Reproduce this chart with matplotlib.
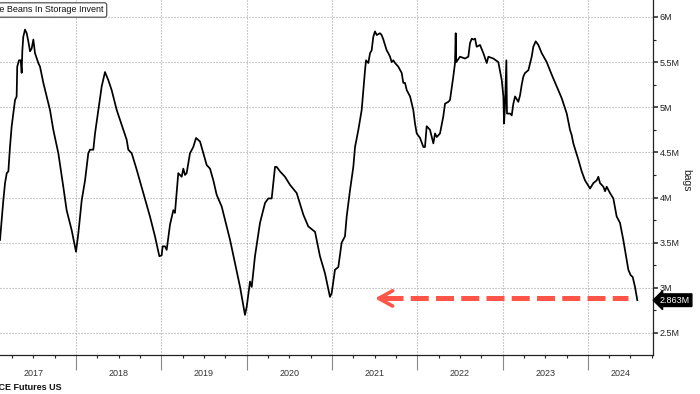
import matplotlib
matplotlib.use('Agg')
import matplotlib.pyplot as plt
from matplotlib.ticker import MultipleLocator, FuncFormatter, FixedLocator
from matplotlib.transforms import blended_transform_factory

# ---- data (decimal year, million bags) ----
years = [
2017.109, 2017.148, 2017.168, 2017.188, 2017.207, 2017.226, 2017.246, 2017.265, 2017.285, 2017.304,
2017.311, 2017.332, 2017.352, 2017.363, 2017.371, 2017.382, 2017.402, 2017.422, 2017.441, 2017.461,
2017.480, 2017.500, 2017.519, 2017.558, 2017.578, 2017.617, 2017.695, 2017.734, 2017.793, 2017.851,
2017.890, 2017.949, 2018.000, 2018.027, 2018.067, 2018.106, 2018.144, 2018.164, 2018.203, 2018.223,
2018.262, 2018.301, 2018.340, 2018.379, 2018.418, 2018.477, 2018.516, 2018.555, 2018.594, 2018.613,
2018.653, 2018.711, 2018.789, 2018.867, 2018.926, 2018.977, 2019.004, 2019.016, 2019.043, 2019.063,
2019.102, 2019.141, 2019.160, 2019.199, 2019.239, 2019.258, 2019.278, 2019.297, 2019.336, 2019.375,
2019.407, 2019.454, 2019.493, 2019.532, 2019.571, 2019.610, 2019.649, 2019.708, 2019.767, 2019.806,
2019.865, 2019.923, 2019.981, 2020.001, 2020.040, 2020.060, 2020.098, 2020.157, 2020.216, 2020.254,
2020.294, 2020.333, 2020.352, 2020.391, 2020.450, 2020.509, 2020.587, 2020.665, 2020.723, 2020.802,
2020.821, 2020.860, 2020.919, 2020.977, 2020.997, 2021.036, 2021.075, 2021.114, 2021.153, 2021.173,
2021.212, 2021.251, 2021.271, 2021.310, 2021.349, 2021.368, 2021.388, 2021.400, 2021.427, 2021.447,
2021.466, 2021.485, 2021.505, 2021.525, 2021.564, 2021.583, 2021.603, 2021.642, 2021.661, 2021.681,
2021.701, 2021.720, 2021.740, 2021.778, 2021.818, 2021.837, 2021.857, 2021.877, 2021.916, 2021.954,
2021.974, 2021.994, 2022.033, 2022.072, 2022.091, 2022.111, 2022.150, 2022.189, 2022.209, 2022.229,
2022.267, 2022.306, 2022.326, 2022.365, 2022.384, 2022.423, 2022.443, 2022.451, 2022.457, 2022.502,
2022.560, 2022.599, 2022.619, 2022.639, 2022.658, 2022.678, 2022.697, 2022.736, 2022.775, 2022.815,
2022.834, 2022.892, 2022.951, 2022.991, 2023.010, 2023.018, 2023.029, 2023.045, 2023.052, 2023.088,
2023.108, 2023.127, 2023.147, 2023.185, 2023.205, 2023.225, 2023.244, 2023.264, 2023.303, 2023.342,
2023.361, 2023.389, 2023.420, 2023.459, 2023.518, 2023.577, 2023.635, 2023.694, 2023.753, 2023.791,
2023.811, 2023.830, 2023.889, 2023.928, 2023.967, 2024.026, 2024.065, 2024.104, 2024.123, 2024.143,
2024.182, 2024.202, 2024.221, 2024.260, 2024.299, 2024.338, 2024.377, 2024.416, 2024.455, 2024.475,
2024.502, 2024.526, 2024.553, 2024.580,
]
values = [
3.53, 3.97, 4.16, 4.27, 4.29, 4.56, 4.79, 4.93, 5.08, 5.12,
5.45, 5.52, 5.52, 5.38, 5.63, 5.78, 5.86, 5.82, 5.73, 5.62,
5.65, 5.75, 5.60, 5.49, 5.45, 5.27, 4.97, 4.75, 4.49, 4.12,
3.86, 3.64, 3.40, 3.60, 3.97, 4.19, 4.49, 4.53, 4.53, 4.71,
4.97, 5.23, 5.39, 5.30, 5.19, 4.97, 4.86, 4.75, 4.64, 4.53,
4.49, 4.31, 4.05, 3.79, 3.57, 3.35, 3.36, 3.46, 3.46, 3.42,
3.70, 3.86, 3.83, 4.27, 4.23, 4.32, 4.25, 4.27, 4.49, 4.56,
4.66, 4.62, 4.49, 4.36, 4.32, 4.19, 4.03, 3.90, 3.68, 3.53,
3.27, 3.01, 2.70, 2.79, 3.07, 3.01, 3.35, 3.72, 3.94, 3.99,
3.99, 4.34, 4.34, 4.29, 4.23, 4.14, 4.05, 3.81, 3.68, 3.62,
3.53, 3.35, 3.16, 2.90, 2.94, 3.20, 3.23, 3.50, 3.57, 3.79,
4.08, 4.34, 4.56, 4.75, 4.97, 5.19, 5.41, 5.52, 5.49, 5.60,
5.63, 5.78, 5.84, 5.80, 5.82, 5.80, 5.75, 5.63, 5.60, 5.56,
5.50, 5.52, 5.49, 5.45, 5.38, 5.27, 5.27, 5.19, 5.12, 4.97,
4.82, 4.71, 4.66, 4.56, 4.56, 4.79, 4.75, 4.60, 4.71, 4.67,
4.71, 4.90, 5.04, 5.06, 5.08, 5.34, 5.49, 5.82, 5.50, 5.56,
5.54, 5.56, 5.71, 5.76, 5.75, 5.76, 5.67, 5.69, 5.60, 5.49,
5.56, 5.54, 5.50, 5.30, 5.12, 4.82, 5.01, 5.52, 4.93, 4.93,
4.91, 5.04, 5.12, 5.06, 5.13, 5.25, 5.34, 5.38, 5.41, 5.56,
5.67, 5.73, 5.69, 5.60, 5.50, 5.36, 5.23, 5.10, 4.93, 4.75,
4.69, 4.60, 4.42, 4.29, 4.19, 4.10, 4.16, 4.19, 4.23, 4.16,
4.12, 4.07, 4.12, 4.05, 3.99, 3.79, 3.72, 3.53, 3.31, 3.20,
3.14, 3.12, 3.01, 2.863,
]
year_labels = ['2017', '2018', '2019', '2020', '2021', '2022', '2023', '2024']
last_value_label = '2.863M'
title_text = 'Coffee Beans In Storage Invent'
source_text = 'Source: ICE Futures US'
unit_label = 'bags'

# annotation arrow (decimal year, million bags)
arrow_tip_x = 2021.505
arrow_dash_x0 = 2021.622
arrow_dash_x1 = 2024.471
arrow_y = 2.883

X_MIN, X_MAX = 2017.109, 2024.764
Y_MIN, Y_MAX = 2.256, 6.188

plt.rcParams['font.family'] = ['Liberation Sans', 'DejaVu Sans']

fig = plt.figure(figsize=(7, 3.94), dpi=100)
ax = fig.add_axes([0, 1 - 355 / 394, 653 / 700, 355 / 394])

ax.plot(years, values, color='black', lw=1.25, solid_joinstyle='round', zorder=3)

ax.set_xlim(X_MIN, X_MAX)
ax.set_ylim(Y_MIN, Y_MAX)

for s in ['left', 'top']:
    ax.spines[s].set_visible(False)
for s in ['right', 'bottom']:
    ax.spines[s].set_color('#222222')
    ax.spines[s].set_linewidth(0.9)

# y axis on right
ax.yaxis.tick_right()
ax.yaxis.set_major_locator(MultipleLocator(0.5))
ax.yaxis.set_minor_locator(MultipleLocator(0.25))
ax.yaxis.set_major_formatter(FuncFormatter(lambda v, p: f'{v:g}M'))
ax.tick_params(axis='y', which='major', direction='out', length=3.5, width=1.1,
               labelsize=6.5, pad=1.5, colors='#222222')
ax.tick_params(axis='y', which='minor', direction='out', length=2, width=0.8, colors='#222222')

# x axis: year separators + quarterly minor ticks
start_year = int(year_labels[0])
year_bounds = [start_year + i for i in range(1, len(year_labels))]
ax.xaxis.set_major_locator(FixedLocator(year_bounds))
ax.xaxis.set_minor_locator(MultipleLocator(0.25))
ax.tick_params(axis='x', which='major', direction='out', length=10.5, width=0.8,
               labelbottom=False, colors='#888888')
ax.tick_params(axis='x', which='minor', direction='out', length=2.2, width=0.8, colors='#222222')

ax.grid(which='major', axis='both', color='#a5a5a5', linestyle=(0, (1, 1.7)), lw=0.8)

trans = blended_transform_factory(ax.transData, ax.transAxes)
for i, lab in enumerate(year_labels):
    y0 = start_year + i
    if i == len(year_labels) - 1:
        c = (y0 + X_MAX) / 2
    else:
        c = y0 + 0.5
    ax.text(c, -0.052, lab, transform=trans, ha='center', va='center',
            fontsize=6.5, color='#333333', clip_on=False)

# red dashed arrow
red = '#fe5548'
line, = ax.plot([arrow_dash_x0, arrow_dash_x1], [arrow_y, arrow_y], color=red, lw=3.6,
                solid_capstyle='butt', zorder=2)
line.set_dashes((3.6, 1.45))
ax.annotate('', xy=(arrow_tip_x, arrow_y), xytext=(arrow_tip_x + 0.16, arrow_y),
            arrowprops=dict(arrowstyle='->,head_length=1.0,head_width=0.55',
                            color=red, lw=2.6, shrinkA=0, shrinkB=0), zorder=2)

# last value box
ax.annotate(last_value_label, xy=(1.0, values[-1]), xycoords=('axes fraction', 'data'),
            xytext=(5, 0), textcoords='offset points', ha='left', va='center',
            fontsize=6.5, color='white',
            bbox=dict(boxstyle='larrow,pad=0.2', fc='black', ec='black'),
            annotation_clip=False)

# unit label
fig.text(686 / 700, 1 - 180 / 394, unit_label, rotation=270, ha='center', va='center',
         fontsize=7.5, color='#222222')

# title box (cut at the left edge, as in the reference)
fig.text(104 / 700, 1 - 10 / 394, title_text, ha='right', va='center', fontsize=6.5,
         color='#111111',
         bbox=dict(boxstyle='round,pad=0.3,rounding_size=0.25', fc='white', ec='#555555', lw=0.9))

# source (cut at the left edge, as in the reference)
fig.text(62 / 700, 1 - 387 / 394, source_text, ha='right', va='center', fontsize=6.5,
         fontweight='bold', color='#111111')

fig.savefig('out.png', dpi=100)
